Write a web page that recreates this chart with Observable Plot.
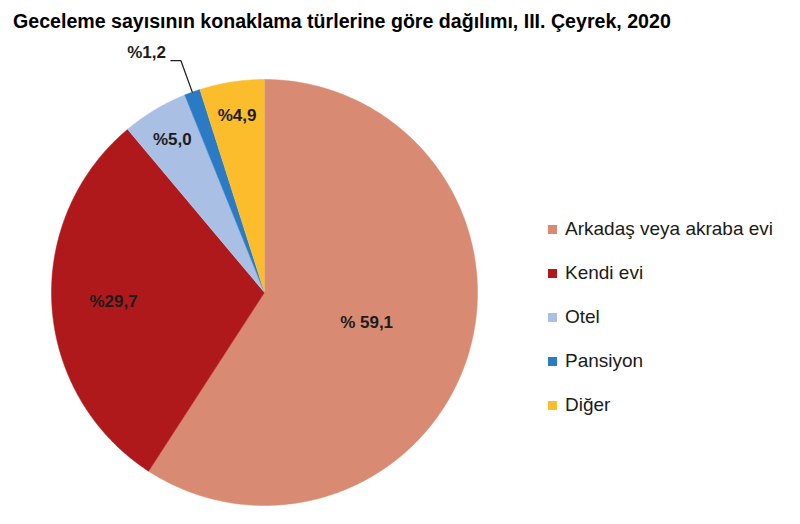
<!DOCTYPE html>
<html>
<head>
<meta charset="utf-8">
<script src="https://cdn.jsdelivr.net/npm/d3@7"></script>
<script src="https://cdn.jsdelivr.net/npm/@observablehq/plot@0.6"></script>
<style>
  body { margin: 0; background: #fff; font-family: "Liberation Sans", Arial, sans-serif; }
  #wrap { position: relative; width: 800px; height: 524px; overflow: hidden; }
  #title { height: 36px; box-sizing: border-box; padding: 10px 0 0 13px; font-size: 19.6px; line-height: 22px; font-weight: bold; color: #000; white-space: nowrap; }
  #legend { position: absolute; left: 548px; top: 207px; font-size: 19px; color: #1a1a1a; }
  .row { display: flex; align-items: center; height: 44px; white-space: pre; }
  .sw { width: 9px; height: 9px; margin-right: 8px; flex: none; }
</style>
</head>
<body>
<div id="wrap">
  <div id="title">Geceleme sayısının konaklama türlerine göre dağılımı, III. Çeyrek, 2020</div>
  <div id="chart"></div>
  <div id="legend"></div>
</div>
<script>
const categories = ["Arkadaş veya akraba evi", "Kendi evi", "Otel", "Pansiyon", "Diğer"];
const shares = [59.1, 29.7, 5.0, 1.2, 4.9];
const labels = ["% 59,1", "%29,7", "%5,0", "%1,2", "%4,9"];
const colors = ["#d98a72", "#b0191b", "#a9c0e4", "#2a7bc4", "#fbbd2c"];

const data = categories.map((name, i) => ({name, share: shares[i], label: labels[i]}));
const arcs = d3.pie().sort(null).value(d => d.share)(data);

// polygon points for each slice, angles clockwise from 12 o'clock
const pts = [];
for (const a of arcs) {
  pts.push({name: a.data.name, x: 0, y: 0});
  const n = Math.max(2, Math.ceil((a.endAngle - a.startAngle) / (Math.PI / 360)));
  for (let k = 0; k <= n; k++) {
    const t = a.startAngle + (a.endAngle - a.startAngle) * k / n;
    pts.push({name: a.data.name, x: Math.sin(t), y: Math.cos(t)});
  }
}

const mid = a => (a.startAngle + a.endAngle) / 2;
const inside = arcs.filter(a => a.data.share >= 2).map(a => {
  const r = a.data.share > 50 ? 0.5 : a.data.share > 20 ? 0.71 : 0.84;
  return {label: a.data.label, x: r * Math.sin(mid(a)), y: r * Math.cos(mid(a))};
});
const outsideArcs = arcs.filter(a => a.data.share < 2);
const leader = [];
const outside = [];
for (const a of outsideArcs) {
  const m = mid(a);
  const p1 = {name: a.data.name, x: Math.sin(m), y: Math.cos(m)};
  const p2 = {name: a.data.name, x: 1.157 * Math.sin(m), y: 1.157 * Math.cos(m)};
  const p3 = {name: a.data.name, x: p2.x - 0.047, y: p2.y};
  leader.push(p1, p2, p3);
  outside.push({label: a.data.label, x: p3.x, y: p3.y});
}

const chart = Plot.plot({
  width: 800,
  height: 488,
  margin: 0,
  x: {domain: [-1, 1], range: [51, 477], axis: null},
  y: {domain: [-1, 1], range: [469, 43], axis: null},
  color: {domain: categories, range: colors},
  style: {fontFamily: "'Liberation Sans', Arial, sans-serif", background: "#fff"},
  marks: [
    Plot.line(pts, {x: "x", y: "y", z: "name", fill: "name", stroke: "name", strokeWidth: 0.5, curve: "linear"}),
    Plot.line(leader, {x: "x", y: "y", z: "name", stroke: "#222", strokeWidth: 1.3}),
    Plot.text(inside, {x: "x", y: "y", text: "label", fontSize: 17, fontWeight: "bold", fill: "#1c1c1c"}),
    Plot.text(outside, {x: "x", y: "y", text: "label", fontSize: 17, fontWeight: "bold", fill: "#1c1c1c", textAnchor: "end", dx: -5, dy: -8})
  ]
});
document.getElementById("chart").appendChild(chart);

const legend = d3.select("#legend");
categories.forEach((c, i) => {
  const row = legend.append("div").attr("class", "row");
  row.append("div").attr("class", "sw").style("background", colors[i]);
  row.append("span").text(c);
});
</script>
</body>
</html>
